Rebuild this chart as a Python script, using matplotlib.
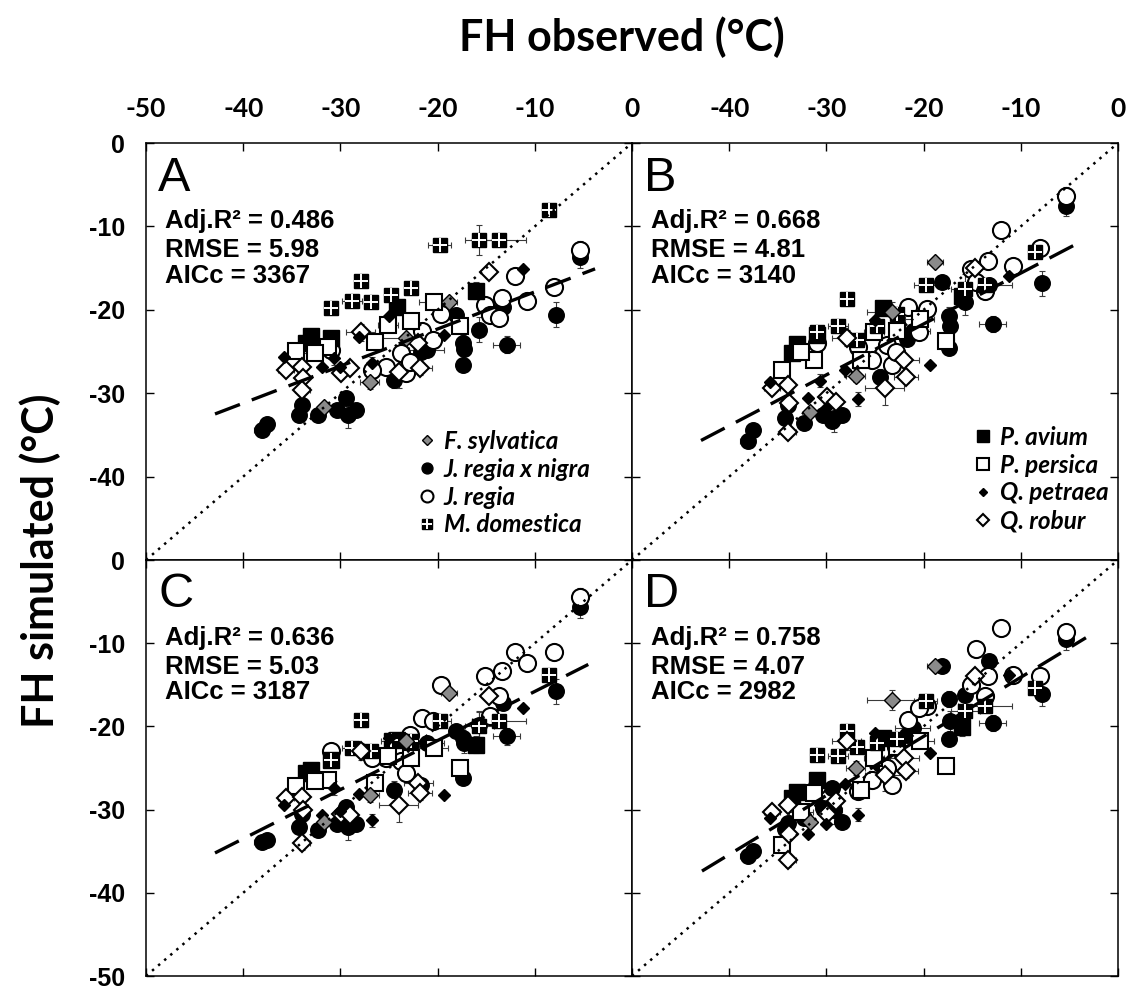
import numpy as np
import matplotlib
matplotlib.use("Agg")
import matplotlib.pyplot as plt
from matplotlib.lines import Line2D
from matplotlib.legend_handler import HandlerTuple
from matplotlib.font_manager import FontProperties

# ---- data (observed x shared by the four models) ----
fsyl_obs = [-18.8, -23.2, -27.0, -31.7]
fsyl_A = [-19.1, -23.4, -28.7, -31.7]
fsyl_B = [-14.3, -20.3, -27.9, -32.2]
fsyl_C = [-16.0, -21.8, -28.3, -31.5]
fsyl_D = [-12.7, -16.8, -25.0, -31.5]
fsyl_xerr = [0.8, 2.6, 1.0, 0.5]
fsyl_yerr = [0.5, 1.2, 0.8, 0.0]

jrn_obs = [-5.4, -7.8, -13.3, -12.9, -15.7, -18.1, -17.4, -17.3, -17.4, -21.1, -21.7,
           -24.5, -29.4, -30.4, -29.2, -28.4, -32.3, -34.3, -34.0, -38.1, -37.6]
jrn_A = [-13.7, -20.6, -19.7, -24.2, -22.4, -20.6, -24.0, -24.7, -26.6, -24.8, -25.0,
         -28.4, -30.6, -32.0, -32.6, -32.0, -32.6, -32.6, -31.4, -34.4, -33.7]
jrn_B = [-7.5, -16.8, -17.0, -21.7, -19.1, -16.7, -20.7, -22.0, -24.6, -22.6, -23.5,
         -28.1, -33.3, -32.6, -33.0, -32.6, -33.6, -33.0, -31.4, -35.7, -34.4]
jrn_C = [-5.7, -15.8, -17.2, -21.2, -19.8, -20.5, -21.4, -22.0, -26.2, -22.0, -27.0,
         -27.6, -29.7, -31.7, -32.1, -31.7, -32.5, -32.1, -30.5, -33.9, -33.7]
jrn_D = [-9.5, -16.1, -12.1, -19.6, -16.2, -12.8, -16.7, -19.4, -21.5, -20.2, -21.0,
         -24.5, -27.4, -29.8, -30.1, -31.5, -31.0, -32.3, -31.6, -35.6, -35.0]
jrn_xerr = [0, 0, 0, 1.4, 0, 0, 0, 0, 0, 1.8, 0, 0, 0, 0, 0.8, 0, 0, 0, 0, 0.8, 0.5]
jrn_yerr = [1.3, 1.5, 0, 1.0, 1.5, 0, 1.0, 1.2, 0, 0.8, 0, 1.0, 0, 0, 1.6, 0, 0, 0, 0, 0, 0.5]

jr_obs = [-5.3, -12.0, -10.8, -8.0, -15.1, -13.4, -14.6, -13.7, -19.6, -21.6, -20.5,
          -23.8, -25.3, -23.2, -26.7, -22.8, -31.0]
jr_A = [-12.8, -16.0, -18.9, -17.3, -19.4, -18.6, -20.6, -21.0, -20.5, -22.6, -23.6,
        -25.2, -26.8, -27.6, -27.2, -26.2, -24.8]
jr_B = [-6.3, -10.4, -14.7, -12.6, -15.1, -14.2, -16.7, -17.7, -19.9, -19.7, -22.7,
        -24.2, -26.0, -26.6, -24.5, -25.0, -24.0]
jr_C = [-4.4, -11.1, -12.4, -11.1, -13.9, -13.4, -18.8, -16.4, -15.0, -19.0, -19.4,
        -24.2, -23.8, -25.6, -23.8, -21.0, -23.0]
jr_D = [-8.7, -8.2, -13.8, -14.0, -15.0, -14.0, -10.7, -16.4, -17.6, -19.2, -17.8,
        -25.0, -26.4, -27.0, -27.8, -22.5, -27.2]
jr_xerr = [0, 0, 0, 0, 0, 0, 0, 0, 0, 0, 0, 0, 0, 0, 0, 0, 0]
jr_yerr = [1.0, 0, 0, 0, 0, 0, 0.8, 0, 0, 0, 0, 0, 0, 0, 0, 0, 0]

md_obs = [-8.5, -19.8, -15.7, -13.7, -27.9, -22.7, -24.8, -28.8, -26.9, -31.0]
md_A = [-8.0, -12.2, -11.6, -11.6, -16.6, -17.4, -18.2, -18.9, -19.1, -19.8]
md_B = [-13.1, -17.0, -17.5, -17.0, -18.7, -20.5, -22.0, -22.0, -23.6, -22.7]
md_C = [-13.8, -19.4, -20.0, -19.3, -19.2, -21.8, -21.6, -22.6, -23.0, -24.0]
md_D = [-15.4, -17.0, -18.2, -17.6, -20.6, -21.5, -22.0, -23.5, -22.5, -23.4]
md_xerr = [0, 1.2, 1.5, 2.8, 0, 0, 0, 1.0, 0, 0]
md_yerr = [0, 0, 1.8, 0, 0.6, 0.6, 0, 0, 0, 0]

pa_obs = [-16.0, -24.2, -33.0, -31.0, -33.5]
pa_A = [-17.7, -19.7, -23.2, -23.4, -24.0]
pa_B = [-18.4, -19.8, -24.1, -23.0, -25.2]
pa_C = [-22.2, -21.6, -25.2, -24.0, -25.6]
pa_D = [-20.1, -21.4, -27.9, -26.5, -28.6]
pa_xerr = [0, 0, 0, 0, 0]
pa_yerr = [1.0, 0, 0, 0, 0]

pp_obs = [-20.4, -22.7, -17.7, -25.1, -26.4, -31.3, -34.6, -32.6]
pp_A = [-19.1, -21.4, -22.0, -21.8, -23.9, -24.5, -24.9, -25.2]
pp_B = [-21.1, -22.6, -23.8, -22.7, -26.0, -26.0, -27.2, -25.0]
pp_C = [-22.6, -23.8, -25.0, -23.6, -26.8, -26.4, -27.2, -26.6]
pp_D = [-21.8, -22.5, -24.8, -23.8, -27.6, -28.0, -34.3, -30.3]
pp_xerr = [1.5, 0, 0.8, 1.0, 0, 0, 0, 1.2]
pp_yerr = [0, 0, 0.5, 0, 0, 0, 0, 0]

qp_obs = [-11.2, -25.0, -19.3, -28.1, -30.7, -35.8, -31.9, -26.7, -30.0]
qp_A = [-15.1, -20.7, -23.0, -23.3, -25.8, -25.7, -26.9, -26.4, -26.8]
qp_B = [-15.9, -21.2, -26.6, -27.2, -28.5, -28.6, -30.6, -30.7, -31.8]
qp_C = [-17.8, -21.4, -28.3, -28.1, -27.4, -29.5, -30.7, -31.3, -30.2]
qp_D = [-13.8, -20.8, -23.2, -26.9, -29.5, -31.0, -32.9, -30.6, -31.7]
qp_xerr = [0, 0, 0, 0, 0, 0, 0, 0, 0]
qp_yerr = [0, 0, 0, 0, 0.8, 0, 0, 0.8, 0]

qr_obs = [-14.7, -27.9, -35.6, -33.9, -29.9, -33.8, -33.9, -22.0, -21.8, -24.0, -29.0]
qr_A = [-15.5, -22.7, -27.2, -26.8, -27.6, -28.2, -29.6, -24.0, -27.0, -27.4, -27.0]
qr_B = [-15.0, -23.4, -29.4, -29.0, -30.4, -31.2, -34.6, -26.0, -28.0, -29.4, -31.0]
qr_C = [-16.4, -23.0, -28.6, -28.5, -30.5, -30.1, -34.0, -26.8, -28.0, -29.5, -30.7]
qr_D = [-14.0, -21.8, -30.3, -29.5, -30.5, -32.9, -36.1, -23.8, -25.4, -25.8, -29.0]
qr_xerr = [0, 1.5, 0.8, 0, 0, 0, 0.8, 1.5, 1.2, 2.0, 0]
qr_yerr = [0, 1.0, 0, 0, 0, 0, 0.8, 0, 0.8, 2.0, 0]

panel_letters = ["A", "B", "C", "D"]
adj_r2 = ["0.486", "0.668", "0.636", "0.758"]
rmse = ["5.98", "4.81", "5.03", "4.07"]
aicc = ["3367", "3140", "3187", "2982"]
fit_slope = [0.445, 0.61, 0.59, 0.71]
fit_intercept = [-13.4, -9.5, -9.9, -7.0]
fit_xmin = [-42.9, -42.9, -42.9, -42.8]
fit_xmax = [-3.8, -4.0, -4.5, -3.3]

ticks = [-50, -40, -30, -20, -10, 0]

# ---- styles ----
styles = {
    "fsyl": dict(marker="D", ms=8.0, mfc="#8a8a8a", mec="black", mew=1.0),
    "jrn": dict(marker="o", ms=11.2, mfc="black", mec="black", mew=1.0),
    "jr": dict(marker="o", ms=12.3, mfc="white", mec="black", mew=1.5),
    "md": dict(marker="s", ms=10, mfc="black", mec="black", mew=1.0),
    "pa": dict(marker="s", ms=11.5, mfc="black", mec="black", mew=1.0),
    "pp": dict(marker="s", ms=11.5, mfc="white", mec="black", mew=1.5),
    "qp": dict(marker="D", ms=6.2, mfc="black", mec="black", mew=1.0),
    "qr": dict(marker="D", ms=8.8, mfc="white", mec="black", mew=1.5),
}
md_cross = dict(marker="+", ms=10, mec="white", mew=1.4)

species = {
    "fsyl": (fsyl_obs, [fsyl_A, fsyl_B, fsyl_C, fsyl_D], fsyl_xerr, fsyl_yerr),
    "jrn": (jrn_obs, [jrn_A, jrn_B, jrn_C, jrn_D], jrn_xerr, jrn_yerr),
    "jr": (jr_obs, [jr_A, jr_B, jr_C, jr_D], jr_xerr, jr_yerr),
    "md": (md_obs, [md_A, md_B, md_C, md_D], md_xerr, md_yerr),
    "pa": (pa_obs, [pa_A, pa_B, pa_C, pa_D], pa_xerr, pa_yerr),
    "pp": (pp_obs, [pp_A, pp_B, pp_C, pp_D], pp_xerr, pp_yerr),
    "qp": (qp_obs, [qp_A, qp_B, qp_C, qp_D], qp_xerr, qp_yerr),
    "qr": (qr_obs, [qr_A, qr_B, qr_C, qr_D], qr_xerr, qr_yerr),
}
draw_order = ["jrn", "jr", "pa", "pp", "md", "qr", "qp", "fsyl"]
legend_A = [("fsyl", "F. sylvatica"), ("jrn", "J. regia x nigra"),
            ("jr", "J. regia"), ("md", "M. domestica")]
legend_B = [("pa", "P. avium"), ("pp", "P. persica"),
            ("qp", "Q. petraea"), ("qr", "Q. robur")]

xtick_font = FontProperties(family="Lato", weight="bold", size=19)
ytick_font = FontProperties(family="Liberation Sans", weight="bold", size=18)
stat_font = FontProperties(family="Liberation Sans", weight="bold", size=18.5)
letter_font = FontProperties(family="Liberation Sans", size=35)
legend_font = FontProperties(family="Lato", weight="bold", style="italic", size=17.5)
title_font = FontProperties(family="Lato", weight="bold", size=31)

W, H = 1131, 992
fig = plt.figure(figsize=(W / 100, H / 100), dpi=100)

# panel boxes in pixels: x0, y0, x1, y1
boxes = [(146, 143, 632, 560), (632, 143, 1118, 560),
         (146, 560, 632, 976), (632, 560, 1118, 976)]


def legend_handles(items):
    handles, labels = [], []
    for key, label in items:
        h = Line2D([], [], linestyle="none", **styles[key])
        if key == "md":
            h = (h, Line2D([], [], linestyle="none", **md_cross))
        handles.append(h)
        labels.append(label)
    return handles, labels


for i, (x0, y0, x1, y1) in enumerate(boxes):
    ax = fig.add_axes([x0 / W, 1 - y1 / H, (x1 - x0) / W, (y1 - y0) / H])
    ax.set_xlim(-50, 0)
    ax.set_ylim(-50, 0)

    for key in draw_order:
        obs, sims, xerr, yerr = species[key]
        x = np.array(obs)
        y = np.array(sims[i])
        xe = np.array(xerr)
        ye = np.array(yerr)
        m = xe > 0
        if m.any():
            ax.errorbar(x[m], y[m], xerr=xe[m], fmt="none", ecolor="#3a3a3a",
                        elinewidth=0.8, capsize=2.5, capthick=0.8, zorder=1)
        m = ye > 0
        if m.any():
            ax.errorbar(x[m], y[m], yerr=ye[m], fmt="none", ecolor="#3a3a3a",
                        elinewidth=0.8, capsize=2.5, capthick=0.8, zorder=1)
        ax.plot(x, y, linestyle="none", zorder=2, **styles[key])
        if key == "md":
            ax.plot(x, y, linestyle="none", zorder=2, **md_cross)

    # 1:1 line and regression line
    ax.axline((0, 0), slope=1, color="black", lw=1.8,
              linestyle=(0, (1, 2.2)), zorder=4)
    fx = np.array([fit_xmin[i], fit_xmax[i]])
    ax.plot(fx, fit_intercept[i] + fit_slope[i] * fx, color="black", lw=2.4,
            linestyle=(0, (8, 3.8)), zorder=5)

    ax.text(0.025, 0.886, panel_letters[i], transform=ax.transAxes,
            fontproperties=letter_font, va="baseline", ha="left")
    for line, yy in zip(["Adj.R\u00b2 = " + adj_r2[i], "RMSE = " + rmse[i],
                         "AICc = " + aicc[i]], [0.796, 0.727, 0.665]):
        ax.text(0.040, yy, line, transform=ax.transAxes,
                fontproperties=stat_font, va="baseline", ha="left")

    ax.set_xticks(ticks)
    ax.set_yticks(ticks)
    top = i < 2
    left = i % 2 == 0
    ax.tick_params(direction="in", length=6, width=1, top=True, bottom=True,
                   left=True, right=True, labelbottom=False, labelright=False,
                   labeltop=top, labelleft=left)
    ax.tick_params(axis="x", pad=16)
    ax.tick_params(axis="y", pad=15)
    if top:
        xl = [str(t) for t in ticks]
        if i == 1:
            xl[0] = ""
        ax.set_xticklabels(xl, fontproperties=xtick_font)
    if left:
        yl = [str(t) for t in ticks]
        if i == 0:
            yl[0] = ""
        ax.set_yticklabels(yl, fontproperties=ytick_font)
    for s in ax.spines.values():
        s.set_linewidth(1.1)

    if i in (0, 1):
        items = legend_A if i == 0 else legend_B
        anchor = (0.56, 0.312) if i == 0 else (0.705, 0.322)
        h, l = legend_handles(items)
        ax.legend(h, l, loc="upper left", bbox_to_anchor=anchor, frameon=False,
                  prop=legend_font, handlelength=0.7, handletextpad=0.35,
                  labelspacing=0.2, borderpad=0, borderaxespad=0,
                  markerscale=0.7, handler_map={tuple: HandlerTuple(ndivide=1)})

fig.text(0.55, 0.949, "FH observed (\u00b0C)", fontproperties=title_font,
         ha="center", va="baseline")
fig.text(0.036, 0.435, "FH simulated (\u00b0C)", fontproperties=title_font,
         ha="center", va="center", rotation=90)

fig.savefig("out.png", dpi=100)
